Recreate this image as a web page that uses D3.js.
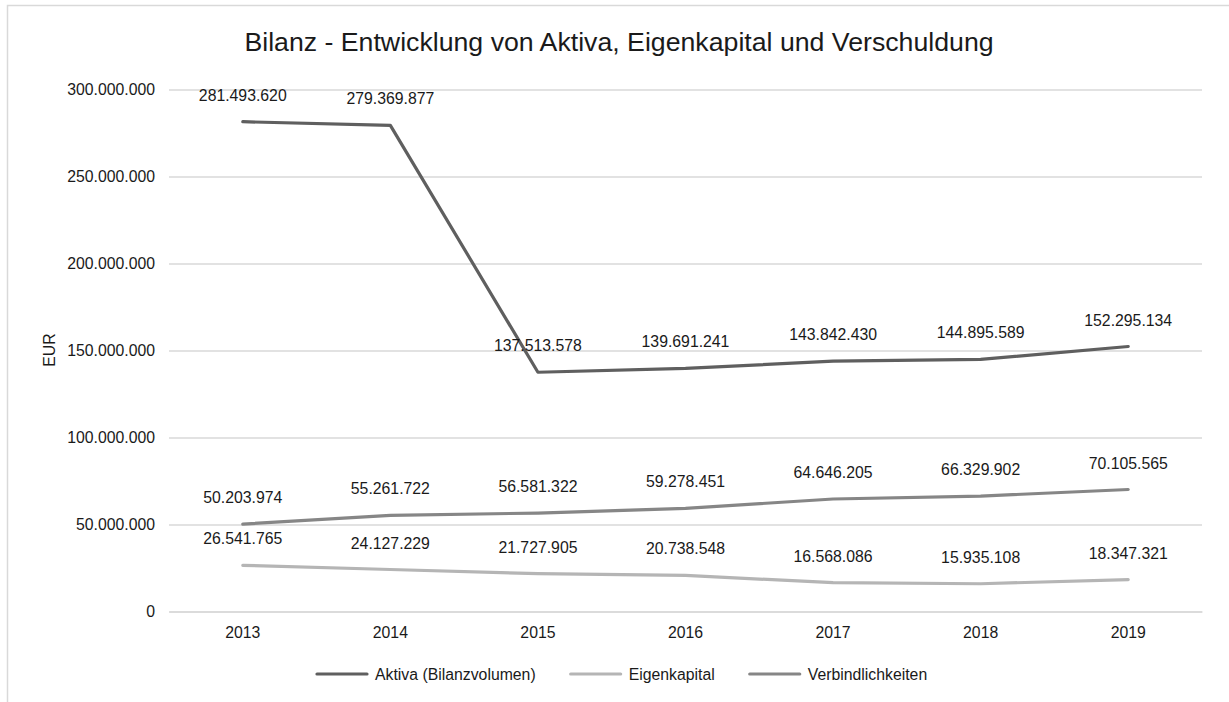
<!DOCTYPE html>
<html>
<head>
<meta charset="utf-8">
<script src="https://cdn.jsdelivr.net/npm/d3@7"></script>
<style>
  body { margin: 0; background: #fff; }
  svg text { font-family: "Liberation Sans", Arial, sans-serif; }
</style>
</head>
<body>
<div id="chart"></div>
<script>
// data
let years = ["2013", "2014", "2015", "2016", "2017", "2018", "2019"];
let aktiva = [281493620, 279369877, 137513578, 139691241, 143842430, 144895589, 152295134];
let eigenkapital = [26541765, 24127229, 21727905, 20738548, 16568086, 15935108, 18347321];
let verbindlichkeiten = [50203974, 55261722, 56581322, 59278451, 64646205, 66329902, 70105565];
let yTicks = [0, 50000000, 100000000, 150000000, 200000000, 250000000, 300000000];
let seriesNames = ["Aktiva (Bilanzvolumen)", "Eigenkapital", "Verbindlichkeiten"];
let seriesColors = ["#5f5f5f", "#b5b5b5", "#868686"];

let series = [aktiva, eigenkapital, verbindlichkeiten].map((values, i) => ({
    name: seriesNames[i],
    color: seriesColors[i],
    values: values.map((v, j) => ({year: years[j], value: v}))
}));

let de = d3.formatLocale({decimal: ",", thousands: ".", grouping: [3], currency: ["", " €"]});
let fmt = de.format(",.0f");

let width = 1229, height = 702;
let margin = {top: 89.5, bottom: 90.5, left: 169, right: 27};

let svg = d3.select("#chart").append("svg")
    .attr("width", width)
    .attr("height", height);

// chart frame
svg.append("rect")
    .attr("x", 7.5).attr("y", 5.5)
    .attr("width", width + 10).attr("height", height + 10)
    .attr("fill", "#fff")
    .attr("stroke", "#d9d9d9")
    .attr("stroke-width", 1.5);

let xScale = d3.scaleBand().domain(years).range([margin.left, width - margin.right]);
let yScale = d3.scaleLinear().domain([0, 300000000]).range([height - margin.bottom, margin.top]);
let xMid = d => xScale(d) + xScale.bandwidth() / 2;

// gridlines + y labels
let yAxis = d3.axisLeft(yScale)
    .tickValues(yTicks)
    .tickSize(-(width - margin.left - margin.right))
    .tickPadding(14)
    .tickFormat(fmt);

svg.append("g")
    .attr("class", "y-axis")
    .attr("transform", `translate(${margin.left},0)`)
    .call(yAxis)
    .call(g => g.select(".domain").remove())
    .call(g => g.selectAll("line").attr("stroke", "#d9d9d9").attr("stroke-width", 1.5))
    .call(g => g.selectAll("text").attr("fill", "#1a1a1a").style("font-size", "15.8px"));

// x labels
let xAxis = d3.axisBottom(xScale).tickSize(0).tickPadding(15);
svg.append("g")
    .attr("class", "x-axis")
    .attr("transform", `translate(0,${height - margin.bottom})`)
    .call(xAxis)
    .call(g => g.select(".domain").attr("stroke", "#d9d9d9").attr("stroke-width", 1.5))
    .call(g => g.selectAll("text").attr("fill", "#1a1a1a").style("font-size", "15.8px"));

// title
svg.append("text")
    .attr("x", 619).attr("y", 51)
    .attr("text-anchor", "middle")
    .style("font-size", "26.7px")
    .attr("fill", "#1a1a1a")
    .text("Bilanz - Entwicklung von Aktiva, Eigenkapital und Verschuldung");

// y axis title
svg.append("text")
    .attr("transform", `translate(55,350) rotate(-90)`)
    .attr("text-anchor", "middle")
    .style("font-size", "15.8px")
    .attr("fill", "#1a1a1a")
    .text("EUR");

// lines
let line = d3.line().x(d => xMid(d.year)).y(d => yScale(d.value));
let g = svg.append("g").attr("class", "body");
g.selectAll("path.series")
    .data(series)
    .enter()
    .append("path")
    .attr("class", "series")
    .attr("d", d => line(d.values))
    .attr("fill", "none")
    .attr("stroke", d => d.color)
    .attr("stroke-width", 3.2)
    .attr("stroke-linejoin", "round")
    .attr("stroke-linecap", "round");

// data labels
series.forEach(s => {
    g.selectAll(null)
        .data(s.values)
        .enter()
        .append("text")
        .attr("x", d => xMid(d.year))
        .attr("y", d => yScale(d.value) - 21)
        .attr("text-anchor", "middle")
        .style("font-size", "15.8px")
        .attr("fill", "#1a1a1a")
        .text(d => fmt(d.value));
});

// legend
let legend = svg.append("g").attr("class", "legend").attr("transform", "translate(317,674)");
let lx = 0;
series.forEach(s => {
    let item = legend.append("g").attr("transform", `translate(${lx},0)`);
    item.append("line")
        .attr("x1", 0).attr("x2", 50)
        .attr("stroke", s.color)
        .attr("stroke-width", 3.2)
        .attr("stroke-linecap", "round");
    let t = item.append("text")
        .attr("x", 58).attr("y", 5.5)
        .style("font-size", "15.8px")
        .attr("fill", "#1a1a1a")
        .text(s.name);
    lx += 58 + t.node().getComputedTextLength() + 35;
});
</script>
</body>
</html>
